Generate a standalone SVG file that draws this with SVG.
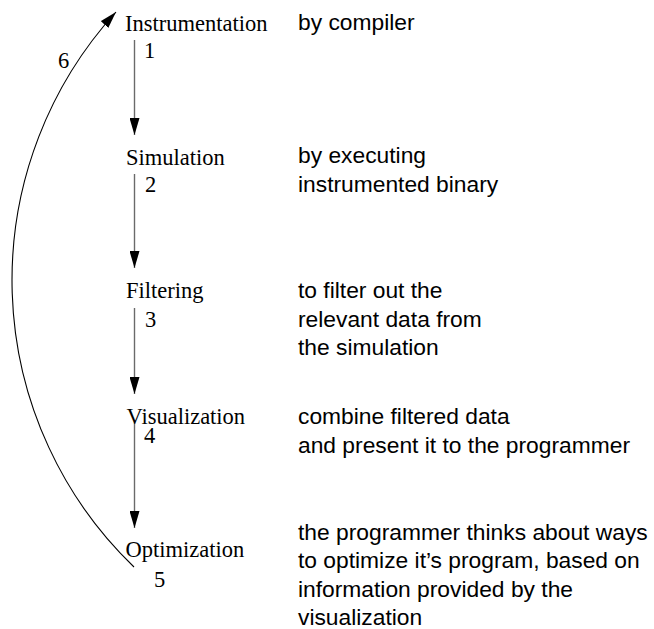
<svg xmlns="http://www.w3.org/2000/svg" width="654" height="629" viewBox="0 0 654 629">
<style>
.lbl{font-family:"Liberation Serif","Times New Roman",serif;font-size:22.5px;fill:#000}
.num{font-family:"Liberation Serif","Times New Roman",serif;font-size:22.5px;fill:#000}
.desc{font-family:"Liberation Sans",Arial,sans-serif;font-size:22.8px;fill:#000}
.step{stroke:#6a6a6a;stroke-width:1.4;fill:none;marker-end:url(#head)}
.back{stroke:#000;stroke-width:1.1;fill:none;marker-end:url(#head)}
</style>
<defs>
<marker id="head" markerUnits="userSpaceOnUse" viewBox="0 0 17 10" markerWidth="17" markerHeight="10" refX="17" refY="5" orient="auto">
<path d="M0,0 L17,5 L0,10 z" fill="#000"/>
</marker>
</defs>
<rect width="654" height="629" fill="#fff"/>
<g id="connectors">
<line class="step" x1="134.5" y1="40" x2="134.5" y2="135"/>
<line class="step" x1="134.5" y1="174" x2="134.5" y2="268"/>
<line class="step" x1="134.5" y1="308" x2="134.5" y2="394"/>
<line class="step" x1="134.5" y1="421" x2="134.5" y2="528"/>
<path class="back" d="M134,567 A398,398 0 0 1 116,12"/>
<text class="num" x="144" y="58">1</text>
<text class="num" x="145" y="192">2</text>
<text class="num" x="145" y="327">3</text>
<text class="num" x="144" y="443">4</text>
<text class="num" x="154" y="587">5</text>
<text class="num" x="58" y="68">6</text>
</g>
<g id="instrumentation">
<text class="lbl" x="125" y="31">Instrumentation</text>
<text class="desc" x="298" y="30">by compiler</text>
</g>
<g id="simulation">
<text class="lbl" x="126" y="165">Simulation</text>
<text class="desc" x="298" y="163">by executing</text>
<text class="desc" x="298" y="191.5">instrumented binary</text>
</g>
<g id="filtering">
<text class="lbl" x="126" y="298">Filtering</text>
<text class="desc" x="298" y="298">to filter out the</text>
<text class="desc" x="298" y="326.5">relevant data from</text>
<text class="desc" x="298" y="355">the simulation</text>
</g>
<g id="visualization">
<text class="lbl" x="126.5" y="424">Visualization</text>
<text class="desc" x="298" y="424">combine filtered data</text>
<text class="desc" x="298" y="452.5">and present it to the programmer</text>
</g>
<g id="optimization">
<text class="lbl" x="125.5" y="557">Optimization</text>
<text class="desc" x="298" y="540">the programmer thinks about ways</text>
<text class="desc" x="298" y="568">to optimize it’s program, based on</text>
<text class="desc" x="298" y="596.5">information provided by the</text>
<text class="desc" x="298" y="625">visualization</text>
</g>
</svg>
